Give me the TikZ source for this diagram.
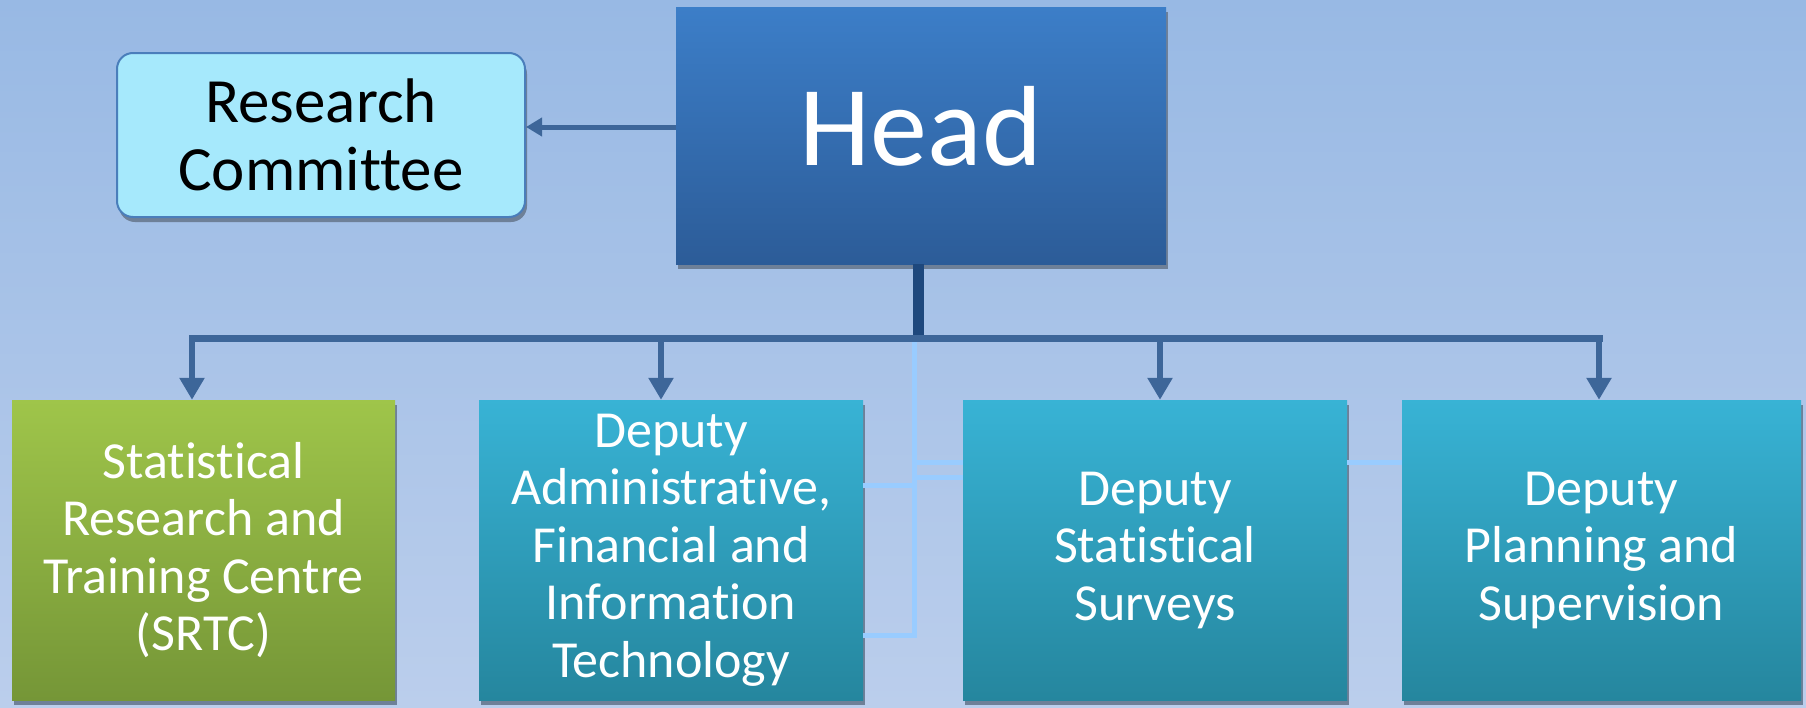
\documentclass[tikz,border=0pt]{standalone}
\usepackage{fontspec}
\setmainfont{Carlito}[RawFeature={-liga,-clig,-dlig}]
\usetikzlibrary{arrows.meta,shadows}
\definecolor{bgtop}{RGB}{152,185,228}
\definecolor{bgbot}{RGB}{187,206,236}
\definecolor{headtop}{RGB}{60,126,200}
\definecolor{headbot}{RGB}{44,92,152}
\definecolor{rcfill}{RGB}{166,233,252}
\definecolor{rcdraw}{RGB}{74,126,187}
\definecolor{greentop}{RGB}{159,197,74}
\definecolor{greenbot}{RGB}{117,150,55}
\definecolor{tealtop}{RGB}{56,179,213}
\definecolor{tealbot}{RGB}{37,134,158}
\definecolor{connc}{RGB}{61,102,153}
\definecolor{stemc}{RGB}{30,72,125}
\definecolor{ghostc}{RGB}{153,204,255}
\definecolor{shadowc}{RGB}{110,128,152}
\begin{document}
\begin{tikzpicture}[x=1pt,y=-1pt,
  boxshadow/.style={drop shadow={shadow xshift=2pt,shadow yshift=-5pt,fill=shadowc,opacity=1}},
  headbox/.style={rectangle,inner sep=0pt,minimum width=490pt,minimum height=257pt,
    top color=headtop,bottom color=headbot,text=white,
    font=\fontsize{114}{120}\selectfont,text height=79pt,text depth=20pt,boxshadow},
  rcbox/.style={rectangle,rounded corners=16pt,draw=rcdraw,line width=2pt,fill=rcfill,
    minimum width=408pt,minimum height=164pt,inner sep=0pt,align=center,
    font=\fontsize{63}{68.5}\selectfont,boxshadow},
  botbox/.style={rectangle,inner sep=0pt,minimum height=300pt,text=white,align=center,
    font=\fontsize{52}{57.5}\selectfont,boxshadow},
  greenbox/.style={botbox,top color=greentop,bottom color=greenbot},
  tealbox/.style={botbox,top color=tealtop,bottom color=tealbot},
  ghostline/.style={draw=ghostc,line width=5pt},
  barline/.style={draw=connc,line width=7pt,line cap=rect},
  stemline/.style={draw=stemc,line width=11pt},
  downarr/.style={draw=connc,line width=6pt,-{Triangle[width=24pt,length=22pt]}},
  sidearr/.style={draw=connc,line width=5pt,-{Triangle[width=18pt,length=16pt]}}
]
\fill[top color=bgtop,bottom color=bgbot] (0,0) rectangle (1806,707);
\useasboundingbox (0,0) rectangle (1806,707);

% coordinates
\coordinate (j) at (918.5,338);
\coordinate (t1) at (192,338);
\coordinate (t2) at (661,338);
\coordinate (t3) at (1160,338);
\coordinate (t4) at (1599,338);
\coordinate (ha) at (600,127);

% bottom boxes
\node[greenbox,minimum width=383pt] (b1) at (203.5,550) {Statistical\\Research and\\Training Centre\\(SRTC)};
\node[tealbox,minimum width=384pt] (b2) at (671,550) {Deputy\\Administrative,\\Financial and\\Information\\Technology};
\node[tealbox,minimum width=384pt] (b3) at (1155,550) {Deputy\\Statistical\\Surveys};
\node[tealbox,minimum width=399pt] (b4) at (1601.5,550) {Deputy\\Planning and\\Supervision};

% ghost lines
\coordinate (gv) at (914,342);
\draw[ghostline] (b2.east |- 0,485) -- (gv |- 0,485);
\draw[ghostline] (b2.east |- 0,635) -- (gv |- 0,635) -- (gv);
\draw[ghostline] (917,462) -- (b3.west |- 0,462);
\draw[ghostline] (917,477) -- (b3.west |- 0,477);
\draw[ghostline] (b3.east |- 0,462) -- (b4.west |- 0,462);

% stem and head
\node[headbox] (head) at (921,135.5) {Head};
\draw[stemline] (head.south -| j) -- (j);

% research committee
\node[rcbox] (rc) at (321,135) {Research\\Committee};
\draw[sidearr] (head.west |- ha) -- (rc.east |- ha);

% bar and arrows
\draw[barline] (t1) -- (t4);
\draw[downarr] (t1) -- (t1 |- b1.north);
\draw[downarr] (t2) -- (t2 |- b2.north);
\draw[downarr] (t3) -- (t3 |- b3.north);
\draw[downarr] (t4) -- (t4 |- b4.north);
\end{tikzpicture}
\end{document}
